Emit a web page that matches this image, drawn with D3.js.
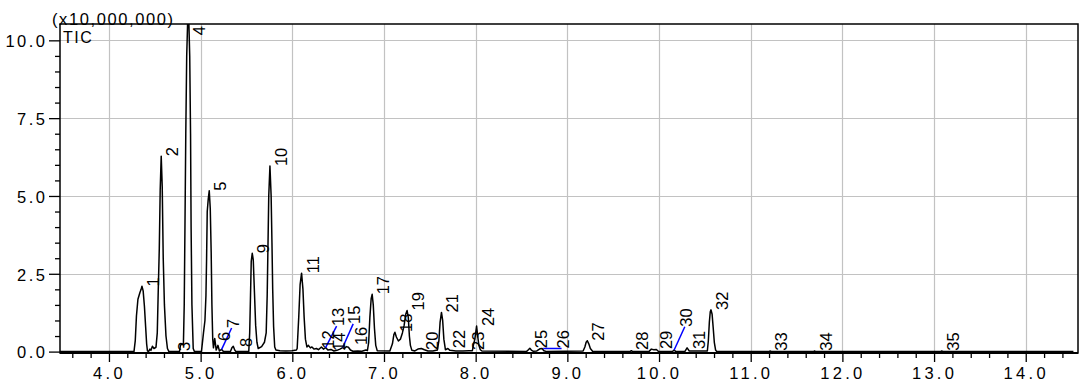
<!DOCTYPE html>
<html>
<head>
<meta charset="utf-8">
<script src="https://cdn.jsdelivr.net/npm/d3@7"></script>
<style>
  html, body { margin: 0; padding: 0; background: #fff; }
  svg { display: block; font-family: "Liberation Sans", Arial, sans-serif; }
</style>
</head>
<body>
<svg id="chart" width="1080" height="385"></svg>
<script>
// Total ion chromatogram: retention time (min) and intensity (x10,000,000)
const retentionTime = [
  3.466,
  4.273, 4.287, 4.300, 4.316, 4.338, 4.351, 4.360, 4.373, 4.387, 4.400, 4.411, 4.420,
  4.431, 4.447, 4.458, 4.474, 4.491,
  4.513, 4.527, 4.538, 4.549, 4.559, 4.570, 4.581, 4.592, 4.605, 4.622, 4.638, 4.654,
  4.769, 4.780, 4.796, 4.812,
  4.821, 4.829, 4.838, 4.848, 4.865, 4.881, 4.890, 4.896, 4.905, 4.919, 4.932,
  5.009, 5.031, 5.047, 5.058, 5.065, 5.072, 5.083, 5.094, 5.105, 5.115, 5.123, 5.132, 5.140,
  5.154, 5.170, 5.189, 5.205, 5.229, 5.249, 5.325, 5.341, 5.356, 5.372, 5.385,
  5.525, 5.535, 5.544, 5.552, 5.563, 5.574, 5.587, 5.600, 5.614, 5.628, 5.665, 5.696,
  5.715, 5.726, 5.734, 5.743, 5.756, 5.769, 5.778, 5.786, 5.796, 5.808, 5.821,
  5.865, 5.930, 5.996, 6.045,
  6.053, 6.070, 6.085, 6.101, 6.116, 6.129, 6.143, 6.159,
  6.176, 6.197, 6.214, 6.236, 6.263, 6.285, 6.317, 6.339, 6.363, 6.388, 6.421, 6.454,
  6.486, 6.519, 6.549, 6.568, 6.590, 6.612, 6.634, 6.661, 6.715, 6.759, 6.803,
  6.819, 6.833, 6.846, 6.860, 6.871, 6.883, 6.896, 6.910, 6.926,
  7.064, 7.092, 7.108, 7.119, 7.135, 7.157, 7.179, 7.201, 7.220, 7.237, 7.252, 7.265,
  7.277, 7.288, 7.304,
  7.337, 7.370, 7.408, 7.441, 7.479, 7.533,
  7.582, 7.599, 7.612, 7.627, 7.640, 7.653, 7.670, 7.697, 7.719, 7.784, 7.860, 7.926,
  7.964, 7.978, 7.991, 8.010, 8.022, 8.035, 8.051, 8.068,
  8.553, 8.575, 8.591, 8.607, 8.629, 8.667, 8.700, 8.725, 8.744, 8.776,
  9.172, 9.191, 9.205, 9.218, 9.234, 9.251, 9.275,
  9.682, 9.698, 9.714, 9.889, 9.916, 9.943, 9.971, 9.992,
  10.145, 10.165, 10.183, 10.281, 10.306, 10.330,
  10.527, 10.538, 10.549, 10.559, 10.567, 10.579, 10.590, 10.603, 10.617, 10.630,
  11.200, 11.212, 11.225, 11.685, 11.696, 11.708, 13.072, 13.084, 13.096,
  14.520
];
const ticIntensity = [
  0,
  0, 0.35, 1.15, 1.68, 1.90, 2.00, 2.10, 1.95, 1.45, 0.80, 0.25, 0.02,
  0, 0.08, 0.04, 0.17, 0.10,
  0.14, 0.60, 2.00, 3.30, 5.20, 6.28, 5.30, 3.00, 1.50, 0.50, 0.10, 0,
  0, 0.20, 0.25, 0.22,
  1.50, 4.00, 7.00, 9.50, 11.30, 9.50, 7.00, 4.00, 1.50, 0.10, 0,
  0, 0.60, 1.00, 1.80, 3.00, 4.50, 4.90, 5.17, 4.60, 3.20, 1.50, 0.40, 0.12,
  0.42, 0.05, 0.20, 0.02, 0.07, 0, 0, 0.12, 0.17, 0.05, 0,
  0, 0.60, 1.80, 2.90, 3.16, 2.95, 1.90, 0.85, 0.30, 0.10, 0.16, 0.30,
  0.60, 1.80, 3.30, 5.00, 5.96, 5.00, 3.50, 2.00, 0.80, 0.15, 0.05,
  0.03, 0.02, 0.03, 0.05,
  0.10, 1.10, 2.15, 2.52, 2.00, 1.10, 0.40, 0.15,
  0.20, 0.12, 0.15, 0.08, 0.10, 0.06, 0.15, 0.08, 0.13, 0.05, 0.07, 0.02,
  0.04, 0.08, 0.13, 0.10, 0.16, 0.14, 0.05, 0.01, 0.02, 0.01, 0.05,
  0.03, 0.30, 1.10, 1.70, 1.84, 1.50, 0.75, 0.20, 0.03,
  0.02, 0.25, 0.55, 0.62, 0.47, 0.34, 0.40, 0.60, 0.85, 1.20, 1.32, 1.10,
  0.50, 0.20, 0.04,
  0.02, 0.08, 0.10, 0.06, 0.02, 0.02,
  0.05, 0.35, 0.95, 1.26, 1.00, 0.40, 0.06, 0.10, 0.04, 0.02, 0.02, 0.03,
  0.03, 0.25, 0.40, 0.82, 0.50, 0.20, 0.06, 0.02,
  0, 0.06, 0.11, 0.05, 0.01, 0.02, 0.09, 0.10, 0.03, 0,
  0.02, 0.15, 0.30, 0.35, 0.25, 0.10, 0.01,
  0, 0.03, 0, 0, 0.08, 0.06, 0.07, 0.01,
  0, 0.05, 0, 0, 0.12, 0.02,
  0.02, 0.35, 0.95, 1.28, 1.34, 1.20, 0.80, 0.30, 0.05, 0,
  0, 0.02, 0, 0, 0.02, 0, 0, 0.02, 0,
  0
];

// Peak numbers and where each number is written (time, intensity)
const peakIds = d3.range(1, 36);
const peakLabelTime = [
  4.356, 4.570, 4.698, 4.862, 5.094, 5.134, 5.338, 5.374, 5.563, 5.756,
  6.101, 6.268, 6.483, 6.388, 6.664, 6.628, 6.871, 7.119, 7.252, 7.408,
  7.627, 7.697, 7.904, 8.010, 8.591, 8.937, 9.218, 9.696, 9.951, 10.281,
  10.314, 10.567, 11.212, 11.696, 13.084
];
const peakLabelLevel = [
  2.09, 6.28, 0.02, 10.16, 5.17, 0.34, 0.76, 0.15, 3.16, 5.96,
  2.52, 0.09, 0.82, 0.02, 0.89, 0.21, 1.84, 0.63, 1.32, 0.05,
  1.26, 0.11, 0.05, 0.82, 0.11, 0.10, 0.35, 0.05, 0.08, 0.80,
  0.08, 1.34, 0.03, 0.03, 0.03
];

// Peaks whose numbers were moved aside, joined to the peak by a leader line
const leaderIds = [7, 13, 15, 26, 30];
const leaderFromTime = [5.229, 6.363, 6.549, 8.736, 10.165];
const leaderFromLevel = [0.07, 0.13, 0.13, 0.10, 0.05];

// Axis ticks
const xMajorTicks = [4, 5, 6, 7, 8, 9, 10, 11, 12, 13, 14];
const yMajorTicks = [0, 2.5, 5, 7.5, 10];
const scaleLabel = "(x10,000,000)";
const traceLabel = "TIC";

const plot = { left: 60, right: 1078, top: 24, bottom: 353 };
const svg = d3.select("#chart");

const x = d3.scaleLinear().domain([3.466, 14.57]).range([plot.left, plot.right]);
const y = d3.scaleLinear().domain([-0.045, 10.525]).range([plot.bottom, plot.top]);

const xMinorTicks = d3.range(3.6, 14.5, 0.2).filter(v => Math.abs(v - Math.round(v)) > 0.05);
const yMinorTicks = d3.range(0.5, 10.5, 0.5).filter(v => Math.abs(v / 2.5 - Math.round(v / 2.5)) > 0.01);

// grid
const grid = svg.append("g").attr("stroke", "#c2c2c2").attr("stroke-width", 1.2);
grid.selectAll("line.v").data(xMajorTicks).join("line")
  .attr("x1", d => Math.round(x(d)) + 0.5).attr("x2", d => Math.round(x(d)) + 0.5)
  .attr("y1", plot.top).attr("y2", plot.bottom);
grid.selectAll("line.h").data(yMajorTicks.filter(d => d > 0)).join("line")
  .attr("x1", plot.left).attr("x2", plot.right)
  .attr("y1", d => Math.round(y(d)) + 0.5).attr("y2", d => Math.round(y(d)) + 0.5);

// trace
svg.append("clipPath").attr("id", "plotClip").append("rect")
  .attr("x", plot.left).attr("y", plot.top)
  .attr("width", plot.right - plot.left).attr("height", plot.bottom - plot.top);

const points = retentionTime.map((t, i) => [t, ticIntensity[i]]);
svg.append("path")
  .attr("clip-path", "url(#plotClip)")
  .attr("d", d3.line().x(d => x(d[0])).y(d => y(d[1]))(points))
  .attr("fill", "none").attr("stroke", "#000").attr("stroke-width", 1.5)
  .attr("stroke-linejoin", "round");

// leader lines
const leaderIndex = new Map(leaderIds.map((id, i) => [id, i]));
svg.append("g").selectAll("line").data(leaderIds).join("line")
  .attr("x1", (id, i) => x(leaderFromTime[i])).attr("y1", (id, i) => y(leaderFromLevel[i]))
  .attr("x2", id => x(peakLabelTime[id - 1])).attr("y2", id => y(peakLabelLevel[id - 1]))
  .attr("stroke", "#0000ff").attr("stroke-width", 1.5);

// peak numbers
svg.append("g").attr("font-size", 16.5).attr("fill", "#000")
  .selectAll("text").data(peakIds).join("text")
  .attr("transform", (id, i) => {
    const off = leaderIndex.has(id) ? 7 : 17;
    return `translate(${x(peakLabelTime[i]) + off},${y(peakLabelLevel[i])}) rotate(-90)`;
  })
  .text(id => id);

// frame
svg.append("rect")
  .attr("x", plot.left).attr("y", plot.top)
  .attr("width", plot.right - plot.left).attr("height", plot.bottom - plot.top)
  .attr("fill", "none").attr("stroke", "#000").attr("stroke-width", 1.5);
svg.append("line")
  .attr("x1", plot.left).attr("x2", plot.right)
  .attr("y1", plot.bottom).attr("y2", plot.bottom)
  .attr("stroke", "#000").attr("stroke-width", 2);

// axes
const fmt = d => d.toFixed(1);
const xAxis = svg.append("g").attr("transform", `translate(0,${plot.bottom})`)
  .call(d3.axisBottom(x).tickValues(xMajorTicks).tickFormat(fmt).tickSize(9).tickPadding(5));
svg.append("g").attr("transform", `translate(0,${plot.bottom})`)
  .call(d3.axisBottom(x).tickValues(xMinorTicks).tickFormat("").tickSize(5));
const yAxis = svg.append("g").attr("transform", `translate(${plot.left},0)`)
  .call(d3.axisLeft(y).tickValues(yMajorTicks).tickFormat(fmt).tickSize(11).tickPadding(1.5));
svg.append("g").attr("transform", `translate(${plot.left},0)`)
  .call(d3.axisLeft(y).tickValues(yMinorTicks).tickFormat("").tickSize(5));

svg.selectAll(".domain").remove();
svg.selectAll(".tick line").attr("stroke", "#000").attr("stroke-width", 1.3);
xAxis.selectAll("text").attr("font-size", 16.5).attr("letter-spacing", 3.3)
  .attr("font-family", "Liberation Sans, Arial, sans-serif").attr("fill", "#000");
yAxis.selectAll("text").attr("font-size", 16.5).attr("letter-spacing", 2.5)
  .attr("font-family", "Liberation Sans, Arial, sans-serif").attr("fill", "#000")
  .attr("dy", "0.38em");

// titles
svg.append("text").attr("x", 52).attr("y", 24.5).attr("font-size", 16.5)
  .attr("letter-spacing", 1.6).text(scaleLabel);
svg.append("text").attr("x", 63).attr("y", 43.3).attr("font-size", 16)
  .attr("letter-spacing", 1.5).text(traceLabel);
</script>
</body>
</html>
